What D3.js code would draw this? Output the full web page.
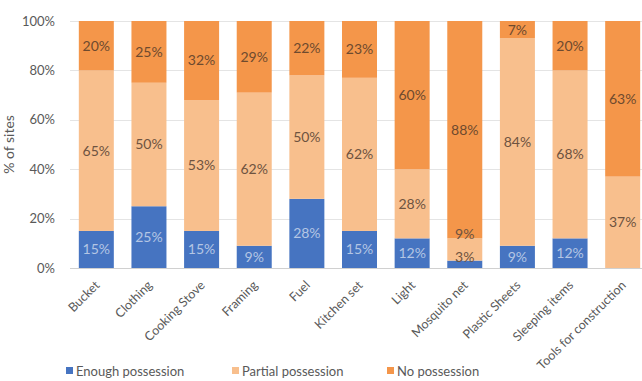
<!DOCTYPE html>
<html>
<head>
<meta charset="utf-8">
<script src="https://cdn.jsdelivr.net/npm/d3@7"></script>
<style>
  html, body { margin: 0; padding: 0; background: #fff; }
  svg { display: block; font-family: Lato, "Open Sans", sans-serif; }
</style>
</head>
<body>
<svg id="chart" width="642" height="381"></svg>
<script>
// Items surveyed at each site
const categories = ["Bucket", "Clothing", "Cooking Stove", "Framing", "Fuel", "Kitchen set",
  "Light", "Mosquito net", "Plastic Sheets", "Sleeping items", "Tools for construction"];

// Share of sites (%) per possession level
const enoughPossession  = [15, 25, 15, 9, 28, 15, 12, 3, 9, 12, 0];
const partialPossession = [65, 50, 53, 62, 50, 62, 28, 9, 84, 68, 37];
const noPossession      = [20, 25, 32, 29, 22, 23, 60, 88, 7, 20, 63];

const seriesNames = ["Enough possession", "Partial possession", "No possession"];
const yTicks = [0, 20, 40, 60, 80, 100];

const colors = ["#4674c1", "#f8bf8d", "#f4964a"];
const labelColors = ["#b4c6e4", "#6e5340", "#6e4a2e"];

const svg = d3.select("#chart");
const margin = { left: 70, right: -7, top: 21, bottom: 113 };
const W = 642, H = 381;

const x = d3.scaleBand()
  .domain(categories)
  .range([margin.left, W - margin.right])
  .paddingInner(0.335)
  .paddingOuter(0.1675);

const y = d3.scaleLinear().domain([0, 100]).range([H - margin.bottom, margin.top]);

// Gridlines
svg.append("g")
  .selectAll("line")
  .data(yTicks)
  .join("line")
  .attr("x1", margin.left)
  .attr("x2", W)
  .attr("y1", d => Math.round(y(d)) + 0.5)
  .attr("y2", d => Math.round(y(d)) + 0.5)
  .attr("stroke", d => d === 0 ? "#d0d0d0" : "#e4e4e4")
  .attr("stroke-width", 1);

// Y axis tick labels
const yAxis = d3.axisLeft(y).tickValues(yTicks).tickFormat(d => d + "%").tickSize(0).tickPadding(0);
const yg = svg.append("g").attr("transform", `translate(55,0)`).call(yAxis);
yg.select(".domain").remove();
yg.selectAll("text")
  .attr("fill", "#595959")
  .style("font-size", "13px")
  .style("font-family", "Lato, sans-serif");

// Y axis title
svg.append("text")
  .attr("transform", `translate(14,${(y(0) + y(100)) / 2}) rotate(-90)`)
  .attr("text-anchor", "middle")
  .attr("fill", "#595959")
  .style("font-size", "14px")
  .text("% of sites");

// Stack the series
const rows = categories.map((c, i) => ({
  cat: c,
  s0: enoughPossession[i],
  s1: partialPossession[i],
  s2: noPossession[i]
}));
const stack = d3.stack().keys(["s0", "s1", "s2"]);
const layers = stack(rows);

const layerG = svg.append("g")
  .selectAll("g")
  .data(layers)
  .join("g")
  .attr("fill", (d, i) => colors[i]);

layerG.selectAll("rect")
  .data(d => d)
  .join("rect")
  .attr("x", d => x(d.data.cat))
  .attr("width", x.bandwidth())
  .attr("y", d => y(d[1]))
  .attr("height", d => y(d[0]) - y(d[1]));

// Value labels, centred in each segment and nudged apart where segments are thin
const labelG = svg.append("g").style("font-size", "14px").attr("text-anchor", "middle");
categories.forEach((c, ci) => {
  let prevY = y(0) - 11;
  layers.forEach((layer, li) => {
    const d = layer[ci];
    const v = d[1] - d[0];
    if (v <= 0) return;
    const centre = (y(d[0]) + y(d[1])) / 2;
    const cy = Math.min(centre, prevY);
    prevY = cy - 23;
    // a label pushed off its own segment sits on the lighter band above it
    const shifted = centre - cy > 3;
    labelG.append("text")
      .attr("x", x(c) + x.bandwidth() / 2)
      .attr("y", cy)
      .attr("dy", "0.35em")
      .attr("fill", shifted && li === 0 ? labelColors[1] : labelColors[li])
      .text(v + "%");
  });
});

// X axis category labels, rotated
const xAxis = d3.axisBottom(x).tickSize(0).tickPadding(0);
const xg = svg.append("g").attr("transform", `translate(0,${y(0)})`).call(xAxis);
xg.select(".domain").remove();
xg.selectAll("text")
  .attr("fill", "#595959")
  .style("font-size", "12.5px")
  .style("font-family", "Lato, sans-serif")
  .attr("text-anchor", "end")
  .attr("dy", null)
  .attr("y", 0)
  .attr("transform", "translate(4,18) rotate(-45)");

// Legend
const legendX = [66, 232, 387];
const legend = svg.append("g")
  .selectAll("g")
  .data(seriesNames)
  .join("g")
  .attr("transform", (d, i) => `translate(${legendX[i]},371)`);
legend.append("rect")
  .attr("x", 0).attr("y", -4)
  .attr("width", 7).attr("height", 7)
  .attr("fill", (d, i) => colors[i]);
legend.append("text")
  .attr("x", 10).attr("y", 0)
  .attr("dy", "0.35em")
  .attr("fill", "#595959")
  .style("font-size", "13px")
  .text(d => d);
</script>
</body>
</html>
